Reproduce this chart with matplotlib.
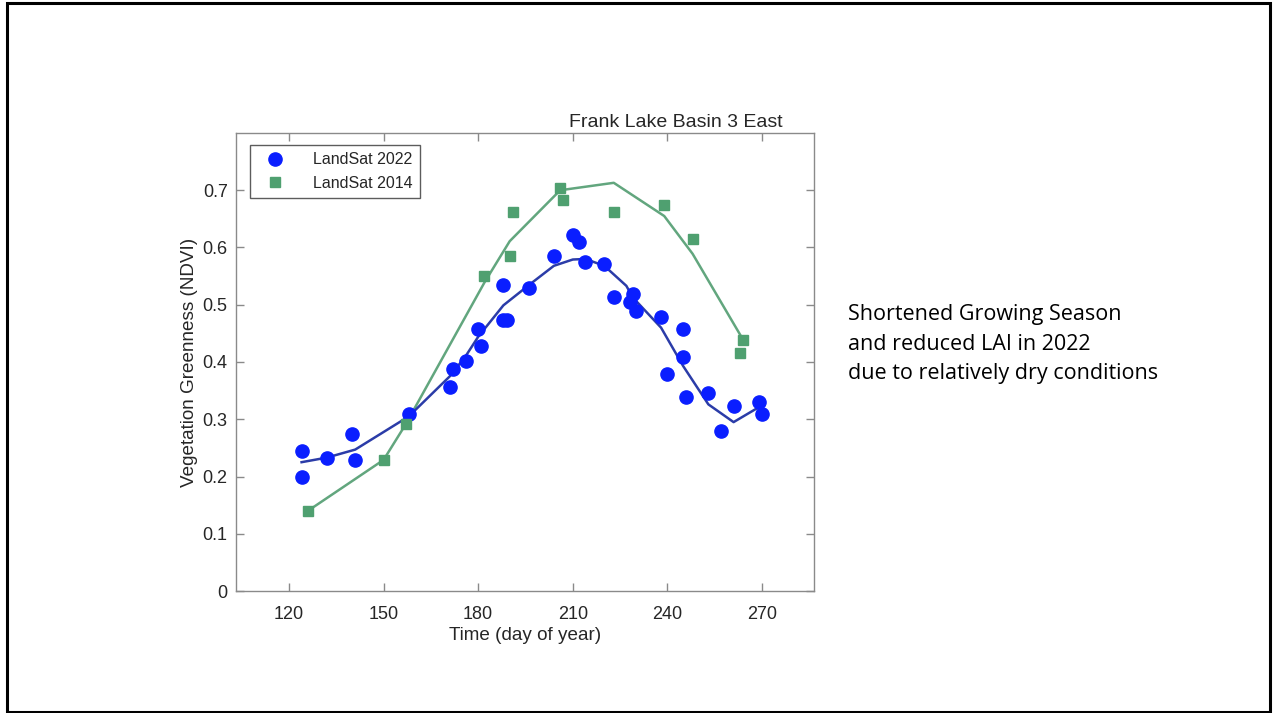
import matplotlib.pyplot as plt
from matplotlib.patches import Rectangle

# ---------------------------------- data ----------------------------------
# LandSat 2022 observations (day of year, NDVI)
day_2022 = [124, 124, 132, 140, 141, 158, 171, 172, 176, 180, 181, 188, 188, 189,
            196, 204, 210, 212, 214, 220, 223, 229, 228, 230, 238, 245, 245, 240,
            246, 253, 257, 261, 269, 270]
ndvi_2022 = [0.244, 0.200, 0.232, 0.274, 0.228, 0.310, 0.357, 0.387, 0.401, 0.457,
             0.428, 0.535, 0.474, 0.474, 0.530, 0.585, 0.621, 0.610, 0.575, 0.572,
             0.513, 0.518, 0.505, 0.489, 0.479, 0.458, 0.408, 0.379, 0.339, 0.345,
             0.280, 0.324, 0.331, 0.309]

# LandSat 2014 observations
day_2014 = [126, 150, 157, 182, 190, 191, 206, 207, 223, 239, 248, 263, 264]
ndvi_2014 = [0.140, 0.229, 0.291, 0.551, 0.585, 0.662, 0.704, 0.683, 0.662,
             0.675, 0.615, 0.415, 0.439]

# smoothed curves
fit_day_2022 = [124, 132, 141, 158, 171, 176, 180, 188, 196, 204, 210, 214, 220,
                227, 229, 238, 245, 253, 261, 269]
fit_ndvi_2022 = [0.225, 0.233, 0.247, 0.305, 0.375, 0.410, 0.444, 0.499, 0.534,
                 0.568, 0.579, 0.580, 0.568, 0.533, 0.513, 0.460, 0.393, 0.326,
                 0.295, 0.321]

fit_day_2014 = [126, 150, 157, 182, 190, 206, 223, 239, 248, 264]
fit_ndvi_2014 = [0.140, 0.229, 0.291, 0.539, 0.611, 0.700, 0.713, 0.655, 0.589, 0.439]

x_ticks = [120, 150, 180, 210, 240, 270]
y_ticks = [0, 0.1, 0.2, 0.3, 0.4, 0.5, 0.6, 0.7]
y_ticklabels = ["0", "0.1", "0.2", "0.3", "0.4", "0.5", "0.6", "0.7"]
# --------------------------------------------------------------------------

plt.rcParams["font.family"] = ["Liberation Sans", "DejaVu Sans"]

fig = plt.figure(figsize=(12.76, 7.13), dpi=100)
# axes box: x 236..814 px, y 133..591 px
ax = fig.add_axes([236 / 1276, 1 - 591 / 713, 578 / 1276, 458 / 713])

blue = "#0a1eff"
green = "#4fa070"

ax.plot(fit_day_2014, fit_ndvi_2014, color="#62a67e", lw=1.8, zorder=2)
ax.plot(fit_day_2022, fit_ndvi_2022, color="#2b3ca8", lw=1.8, zorder=2)
ax.plot(day_2022, ndvi_2022, "o", color=blue, ms=9.5, mec=blue,
        label="LandSat 2022", zorder=3)
ax.plot(day_2014, ndvi_2014, "s", color=green, ms=6.5, mec=green,
        label="LandSat 2014", zorder=3)

ax.set_xlim(103.2, 286.5)
ax.set_ylim(0, 0.8)
ax.set_xticks(x_ticks)
ax.set_yticks(y_ticks)
ax.set_yticklabels(y_ticklabels)

for s in ax.spines.values():
    s.set_color("#8a8a8a")
    s.set_linewidth(1.0)
ax.tick_params(direction="in", top=True, right=True, length=6, width=1,
               color="#8a8a8a", labelsize=13, labelcolor="#262626")
ax.tick_params(axis="x", pad=11)
ax.tick_params(axis="y", pad=6)

ax.set_xlabel("Time (day of year)", fontsize=13.6, color="#262626", labelpad=3)
ax.set_ylabel("Vegetation Greenness (NDVI)", fontsize=13.6, color="#262626",
              labelpad=3)
ax.text(783 / 578 - 236 / 578, 1.005, "Frank Lake Basin 3 East",
        transform=ax.transAxes, ha="right", va="bottom", fontsize=14,
        color="#262626")

leg = ax.legend(loc="upper left", bbox_to_anchor=(0.024, 0.974), fontsize=11.5,
                frameon=True, fancybox=False, edgecolor="#333333",
                borderpad=0.45, handletextpad=1.3, labelspacing=0.55,
                handlelength=2.2, borderaxespad=0)
leg.get_frame().set_linewidth(1.0)
for t in leg.get_texts():
    t.set_color("#262626")

fig.text(848 / 1276, 1 - 344 / 713,
         "Shortened Growing Season\nand reduced LAI in 2022\ndue to relatively dry conditions",
         ha="left", va="center", fontsize=15.5, family=["Open Sans", "DejaVu Sans"],
         linespacing=1.56, color="black")

# slide border
fig.patches.append(Rectangle((7 / 1276, 1.5 / 713), 1263 / 1276, 709 / 713,
                             transform=fig.transFigure, fill=False,
                             edgecolor="black", lw=2.2))

fig.savefig("out.png", dpi=100)
